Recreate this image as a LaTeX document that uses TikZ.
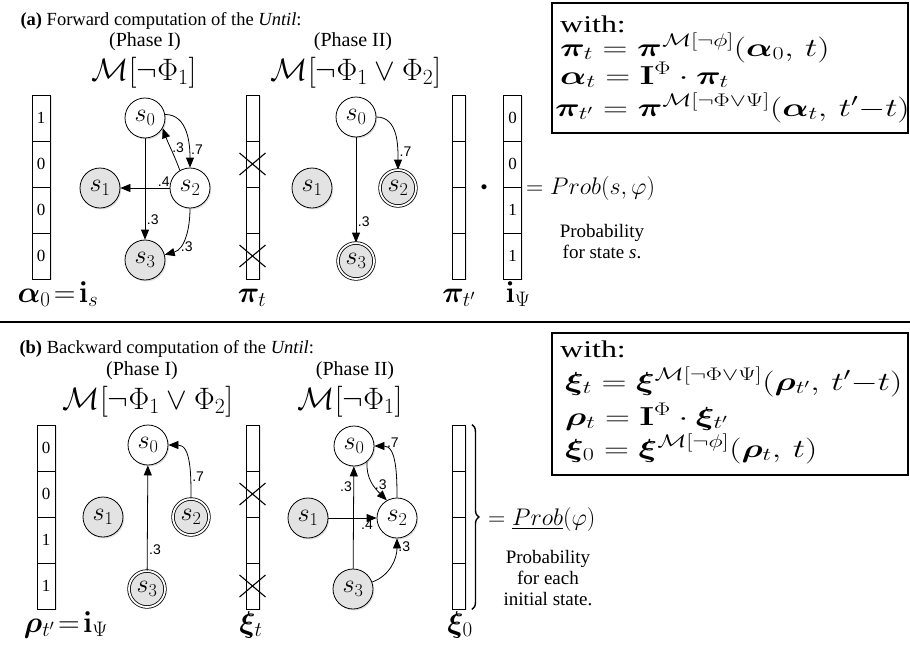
\RequirePackage{fix-cm}
\documentclass[tikz,border=0pt]{standalone}
\usepackage{amsmath,bm,graphicx}
\usepackage[no-math]{fontspec}
\setmainfont{Liberation Serif}
\setsansfont{Liberation Sans}
\usetikzlibrary{arrows.meta,shadows,decorations.pathreplacing}
\newcommand\wide[1]{\scalebox{1.33}[1]{#1}}
\tikzset{st/.style={circle,draw,line width=.8pt,fill=white,minimum size=40pt,inner sep=0pt,
   font=\fontsize{26}{26}\selectfont,drop shadow={opacity=.25,shadow xshift=1.2pt,shadow yshift=-1.5pt}},
 ab/.style={st,fill=gray!22},tg/.style={ab,double,double distance=1.8pt,minimum size=36pt},
 arr/.style={-{Triangle[length=10pt,width=8pt]},line width=.8pt},
 lbl/.style={font=\sffamily\fontsize{14}{14}\selectfont,inner sep=1.5pt},
 cell/.style={draw,fill=white,line width=.9pt,minimum width=18pt,minimum height=46pt,inner sep=0pt,
   font=\fontsize{17}{17}\selectfont,drop shadow={opacity=.2,shadow xshift=1.5pt,shadow yshift=-1pt}},
 slim/.style={cell,minimum width=13pt},xm/.style={line width=1.1pt},
 brc/.style={decorate,decoration={brace,amplitude=7pt},line width=1.4pt},
 ttl/.style={anchor=base west,font=\fontsize{18.5}{19}\selectfont},
 phase/.style={anchor=base,inner sep=1pt,font=\fontsize{20}{20}\selectfont},
 mlab/.style={anchor=base,inner sep=1pt,font=\fontsize{31}{31}\selectfont},
 vlab/.style={anchor=base,font=\fontsize{30}{30}\selectfont},
 with/.style={anchor=base west,inner sep=0pt,font=\fontsize{24}{24}\selectfont},
 eq/.style={anchor=base west,inner sep=0pt,font=\fontsize{26}{26}\selectfont},
 res/.style={anchor=base west,inner sep=0pt,font=\fontsize{24}{24}\selectfont},
 note/.style={align=center,inner sep=0pt,font=\fontsize{19}{21}\selectfont}}
\begin{document}
\begin{tikzpicture}[x=1pt,y=1pt]
\useasboundingbox (0,0) rectangle (910,-648);
% (a) forward
\node[ttl] (ta) at (17,-25) {\textbf{(a)} Forward computation of the \textit{Until}:};
\node[phase] (pa1) at (145,-46) {(Phase I)};
\node[mlab] (ma1) at (144,-80) {$\mathcal{M}[\neg\Phi_1]$};
\node[phase] (pa2) at (353,-46) {(Phase II)};
\node[mlab] (ma2) at (356,-80) {$\mathcal{M}[\neg\Phi_1\vee\Phi_2]$};
\foreach \k/\e in {1/1,2/0,3/0,4/0} \node[cell] (al\k) at (41,{-72-46*\k}) {\e};
\foreach \k in {1,...,4} \node[slim] (pt\k) at (252.5,{-72-46*\k}) {};
\foreach \k in {1,...,4} \node[slim] (pp\k) at (458.5,{-72-46*\k}) {};
\foreach \k/\e in {1/0,2/0,3/1,4/1} \node[cell] (ip\k) at (512.5,{-72-46*\k}) {\e};
\foreach \k in {2,4} \draw[xm] (pt\k.center) ++(-13,11) -- ++(26,-22) (pt\k.center) ++(-13,-11) -- ++(26,22);
\node[st] (f1s0) at (145,-118) {$s_0$};
\node[ab] (f1s1) at (100,-188) {$s_1$};
\node[st] (f1s2) at (190,-188) {$s_2$};
\node[ab] (f1s3) at (145,-260) {$s_3$};
\draw[arr] (f1s0) -- node[lbl,pos=.8,right] {.3} (f1s3);
\draw[arr] (f1s0.10) to[out=0,in=90] node[lbl,pos=.75,right] {.7} (f1s2);
\draw[arr] (f1s2.120) to[out=110,in=-70] node[lbl,pos=.55,right] {.3} (f1s0.-30);
\draw[arr] (f1s2) -- node[lbl,pos=.12,above] {.4} (f1s1);
\draw[arr] (f1s2) to[out=-90,in=15] node[lbl,pos=.7,right] {.3} (f1s3);
\node[st] (f2s0) at (356,-117) {$s_0$};
\node[ab] (f2s1) at (312,-188) {$s_1$};
\node[tg] (f2s2) at (398,-188) {$s_2$};
\node[tg] (f2s3) at (356,-261) {$s_3$};
\draw[arr] (f2s0) -- node[lbl,pos=.8,right] {.3} (f2s3);
\draw[arr] (f2s0) to[out=0,in=90] node[lbl,pos=.75,right] {.7} (f2s2);
\node[vlab] (lal) at (58,-302) {$\bm{\alpha}_0\!=\!\mathbf{i}_s$};
\node[vlab] (lpt) at (252,-302) {$\bm{\pi}_t$};
\node[vlab] (lpp) at (459,-302) {$\bm{\pi}_{t'}$};
\node[vlab] (lip) at (518,-302) {$\mathbf{i}_\Psi$};
\node[font=\fontsize{13}{13}\selectfont,inner sep=0pt] (dot) at (484,-188) {$\bullet$};
\node[res] (pra) at (526,-194) {$=Prob(s,\varphi)$};
\node[note] (nta) at (602,-242) {Probability\\for state \textit{s}.};
\draw[line width=1.3pt] (552,-3) rectangle (908,-133);
\node[with] (wa0) at (560,-32) {\wide{with:}};
\node[eq] (wa1) at (560,-56) {\wide{$\bm{\pi}_t=\bm{\pi}^{\mathcal{M}[\neg\phi]}(\bm{\alpha}_0,\,t)$}};
\node[eq] (wa2) at (560,-84) {\wide{$\bm{\alpha}_t=\mathbf{I}^{\Phi}\cdot\bm{\pi}_t$}};
\node[eq] (wa3) at (555,-116) {\wide{$\bm{\pi}_{t'}=\bm{\pi}^{\mathcal{M}[\neg\Phi\vee\Psi]}(\bm{\alpha}_t,\,t'{-}t)$}};
\draw[line width=2.5pt] (0,-322) -- (910,-322);
% (b) backward
\node[ttl] (tb) at (16,-353) {\textbf{(b)} Backward computation of the \textit{Until}:};
\node[phase] (pb1) at (142,-375) {(Phase I)};
\node[mlab] (mb1) at (148,-409) {$\mathcal{M}[\neg\Phi_1\vee\Phi_2]$};
\node[phase] (pb2) at (355,-375) {(Phase II)};
\node[mlab] (mb2) at (350,-409) {$\mathcal{M}[\neg\Phi_1]$};
\foreach \k/\e in {1/0,2/0,3/1,4/1} \node[cell] (rh\k) at (46,{-402-46*\k}) {\e};
\foreach \k in {1,...,4} \node[slim] (xt\k) at (252.5,{-402-46*\k}) {};
\foreach \k in {1,...,4} \node[slim] (xz\k) at (459,{-402-46*\k}) {};
\foreach \k in {2,4} \draw[xm] (xt\k.center) ++(-13,11) -- ++(26,-22) (xt\k.center) ++(-13,-11) -- ++(26,22);
\node[st] (b1s0) at (148,-445) {$s_0$};
\node[ab] (b1s1) at (103,-517) {$s_1$};
\node[tg] (b1s2) at (191,-517) {$s_2$};
\node[tg] (b1s3) at (147,-589) {$s_3$};
\draw[arr] (b1s3) -- node[lbl,pos=.2,right] {.3} (b1s0);
\draw[arr] (b1s2) to[out=90,in=0] node[lbl,pos=.3,right] {.7} (b1s0);
\node[st] (b2s0) at (354,-446) {$s_0$};
\node[ab] (b2s1) at (308,-518) {$s_1$};
\node[st] (b2s2) at (397,-518) {$s_2$};
\node[ab] (b2s3) at (353,-589) {$s_3$};
\draw[arr] (b2s3) -- node[lbl,pos=.8,left] {.3} (b2s0);
\draw[arr] (b2s1) -- node[lbl,pos=.8,below] {.4} (b2s2);
\draw[arr] (b2s0.-50) to[out=-95,in=135] node[lbl,pos=.55,right] {.3} (b2s2.120);
\draw[arr] (b2s2.north) to[out=90,in=0] node[lbl,pos=.8,above right] {.7} (b2s0.east);
\draw[arr] (b2s3) to[out=20,in=-90] node[lbl,pos=.85,right] {.3} (b2s2);
\node[vlab] (lrh) at (66,-632) {$\bm{\rho}_{t'}\!=\!\mathbf{i}_\Psi$};
\node[vlab] (lxt) at (251,-632) {$\bm{\xi}_t$};
\node[vlab] (lxz) at (460,-632) {$\bm{\xi}_0$};
\draw[brc] ([xshift=6pt]xz1.north east) -- ([xshift=6pt]xz4.south east);
\node[res] (prb) at (488,-525) {$=\underline{Prob}(\varphi)$};
\node[note] (ntb) at (548,-578) {Probability\\for each\\initial state.};
\draw[line width=1.3pt] (552,-333) rectangle (908,-475);
\node[with] (wb0) at (560,-357) {\wide{with:}};
\node[eq] (wb1) at (565,-390) {\wide{$\bm{\xi}_t=\bm{\xi}^{\mathcal{M}[\neg\Phi\vee\Psi]}(\bm{\rho}_{t'},\,t'{-}t)$}};
\node[eq] (wb2) at (565,-425) {\wide{$\bm{\rho}_t=\mathbf{I}^{\Phi}\cdot\bm{\xi}_{t'}$}};
\node[eq] (wb3) at (565,-457) {\wide{$\bm{\xi}_0=\bm{\xi}^{\mathcal{M}[\neg\phi]}(\bm{\rho}_t,\,t)$}};
\end{tikzpicture}
\end{document}
